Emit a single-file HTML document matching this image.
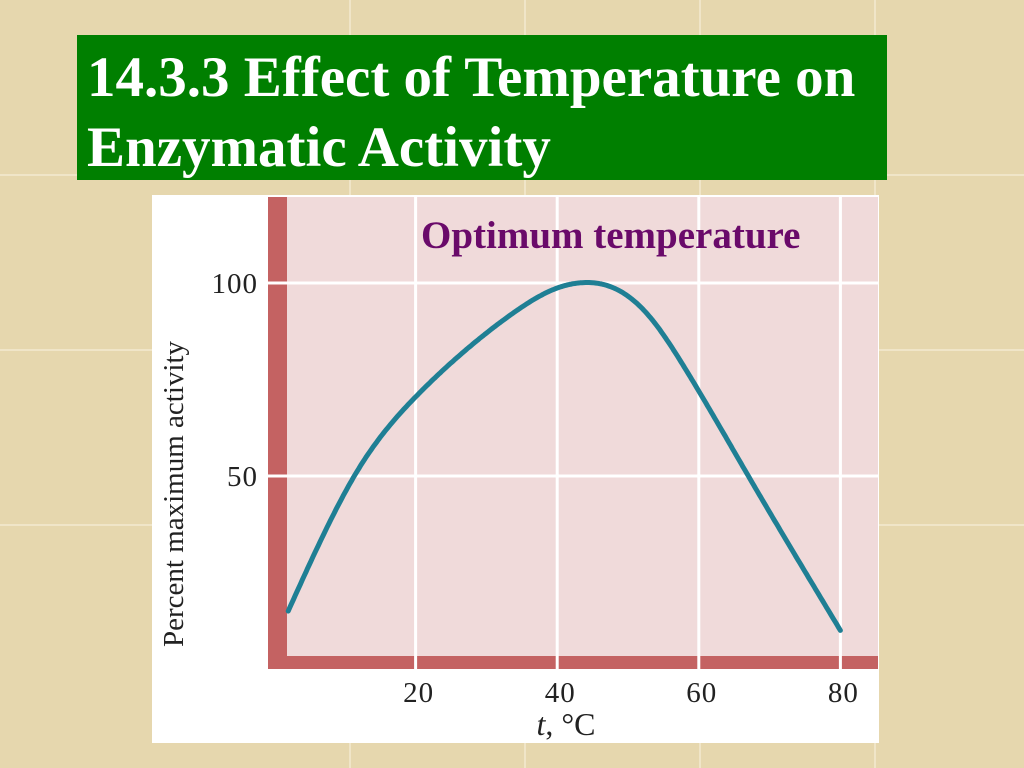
<!DOCTYPE html>
<html><head><meta charset="utf-8">
<style>
body{margin:0;width:1024px;height:768px;overflow:hidden;background:#e8d9ae;font-family:"Liberation Serif",serif;}
#bg{position:absolute;left:0;top:0;}
#title{position:absolute;left:77px;top:35px;width:810px;height:145px;background:#007f00;color:#fff;font-weight:bold;font-size:57px;line-height:70px;box-sizing:border-box;padding:8px 0 0 10px;white-space:nowrap;}
</style></head><body>
<svg id="bg" width="1024" height="768">
<rect width="1024" height="768" fill="#e6d7ae"/>
<g stroke="#f3ead0" stroke-width="1.5">
<line x1="350" y1="0" x2="350" y2="768"/><line x1="525" y1="0" x2="525" y2="768"/><line x1="700" y1="0" x2="700" y2="768"/><line x1="875" y1="0" x2="875" y2="768"/>
<line x1="0" y1="350" x2="1024" y2="350"/><line x1="0" y1="525" x2="1024" y2="525"/><line x1="0" y1="175" x2="1024" y2="175"/>
</g></svg>
<div id="title">14.3.3 Effect of Temperature on<br>Enzymatic Activity</div>
<svg id="chart" style="position:absolute;left:0;top:0" width="1024" height="768"></svg>
<script>
const temps=[2,6,12,20,27,34,40,43,48,53,57,60,67,80];
const activity=[15,31,52,70.5,82.5,92.5,98.7,100,98.7,91.4,81,72,50,10];
const xTicks=[20,40,60,80];
const yTicks=[50,100];
const NS="http://www.w3.org/2000/svg";
const svg=document.getElementById('chart');
const X=t=>274+7.08*t, Y=v=>669-3.86*v;
function mk(tag,a,p){const e=document.createElementNS(NS,tag);for(const k in a)e.setAttribute(k,a[k]);(p||svg).appendChild(e);return e;}
let e;
e=mk('rect',{x:152,y:195,width:727,height:548,fill:'#fff'});


e=mk('rect',{x:268,y:197,width:610,height:472,fill:'#f0dada'});


xTicks.forEach(t=>{const g=mk('line',{x1:X(t),y1:197,x2:X(t),y2:669,stroke:'#fff','stroke-width':3});


const l=mk('text',{x:X(t)+3,y:702,'text-anchor':'middle','font-size':29,fill:'#222','font-family':'Liberation Serif','letter-spacing':1});l.textContent=t;

});
yTicks.forEach(v=>{const g=mk('line',{x1:268,y1:Y(v),x2:878,y2:Y(v),stroke:'#fff','stroke-width':3});


const l=mk('text',{x:258,y:Y(v)+10,'text-anchor':'end','font-size':29,fill:'#222','font-family':'Liberation Serif','letter-spacing':1});l.textContent=v;

});
e=mk('rect',{x:268,y:197,width:19,height:472,fill:'#c46262'});


e=mk('rect',{x:268,y:656,width:610,height:13,fill:'#c46262'});


yTicks.forEach(v=>{const g=mk('line',{x1:268,y1:Y(v),x2:287,y2:Y(v),stroke:'#fff','stroke-width':3});});
xTicks.forEach(t=>{const g=mk('line',{x1:X(t),y1:656,x2:X(t),y2:669,stroke:'#fff','stroke-width':3});});
// natural cubic spline in t
const n=temps.length, h=[], M=new Array(n).fill(0);
for(let i=0;i<n-1;i++)h.push(temps[i+1]-temps[i]);
{const a=[],b=[],c=[],r=[];
for(let i=1;i<n-1;i++){a.push(h[i-1]);b.push(2*(h[i-1]+h[i]));c.push(h[i]);
r.push(6*((activity[i+1]-activity[i])/h[i]-(activity[i]-activity[i-1])/h[i-1]));}
const m=b.length;
for(let i=1;i<m;i++){const w=a[i]/b[i-1];b[i]-=w*c[i-1];r[i]-=w*r[i-1];}
const s=new Array(m);s[m-1]=r[m-1]/b[m-1];
for(let i=m-2;i>=0;i--)s[i]=(r[i]-c[i]*s[i+1])/b[i];
for(let i=0;i<m;i++)M[i+1]=s[i];}
function S(t){let i=0;while(i<n-2&&t>temps[i+1])i++;
const A=(temps[i+1]-t)/h[i],B=(t-temps[i])/h[i];
return A*activity[i]+B*activity[i+1]+((A*A*A-A)*M[i]+(B*B*B-B)*M[i+1])*h[i]*h[i]/6;}
let d='';
for(let t=temps[0];t<=temps[n-1]+1e-9;t+=0.25){d+=(d?' L':'M')+X(t).toFixed(1)+','+Y(S(t)).toFixed(1);}
e=mk('path',{d:d,fill:'none',stroke:'#1f7f94','stroke-width':5,'stroke-linecap':'round','stroke-linejoin':'round'});


e=mk('text',{x:421,y:248,'font-size':39,'font-weight':'bold',fill:'#6a0a6a','font-family':'Liberation Serif'});e.textContent='Optimum temperature';


e=mk('text',{x:0,y:0,'font-size':29,fill:'#222','font-family':'Liberation Serif','text-anchor':'middle',transform:'translate(183,494) rotate(-90)'});e.textContent='Percent maximum activity';


e=mk('text',{x:566,y:735,'font-size':32,fill:'#222','font-family':'Liberation Serif','text-anchor':'middle'});e.innerHTML='<tspan font-style="italic">t</tspan>, °C';


</script>
</body></html>
